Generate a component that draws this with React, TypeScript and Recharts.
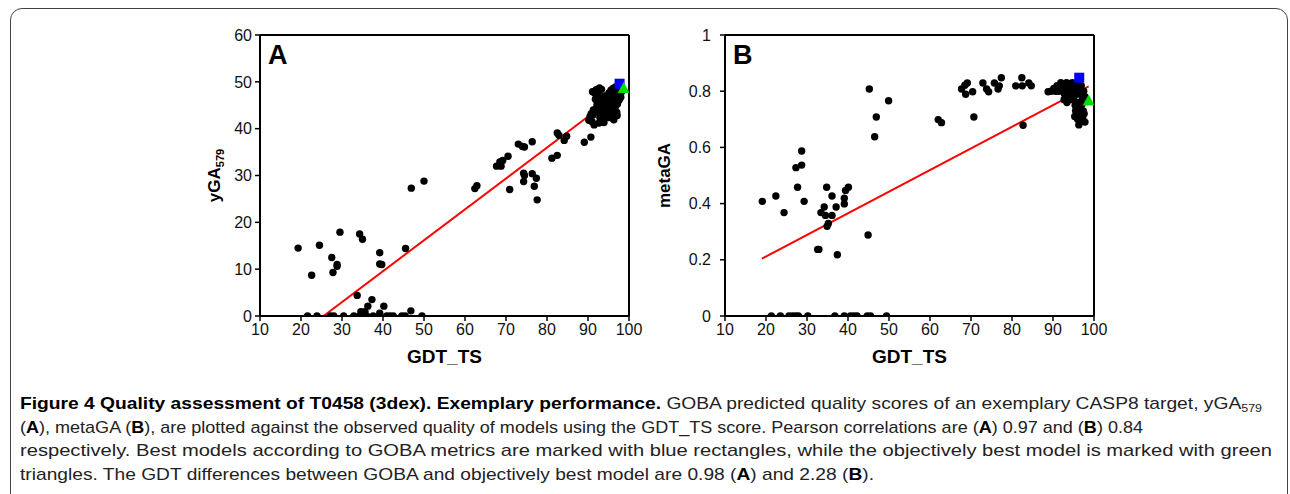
import React from 'react';
import { ScatterChart, Scatter, XAxis, YAxis, ReferenceLine } from 'recharts';

const xTicks = [10, 20, 30, 40, 50, 60, 70, 80, 90, 100];
const yTicksA = [0, 10, 20, 30, 40, 50, 60];
const yTicksB = [0, 0.2, 0.4, 0.6, 0.8, 1];

// Panel A: yGA579 vs GDT_TS
const pointsA: [number, number][] = [
  [19.3, 14.5], [22.6, 8.7], [24.5, 15.1], [27.5, 12.5], [27.8, 9.3], [28.8, 11.0], [28.8, 10.6],
  [29.5, 17.9], [34.3, 17.5], [35.0, 16.4], [39.2, 13.5], [39.2, 11.1], [39.7, 11.0], [45.5, 14.4],
  [33.7, 4.4], [37.3, 3.5], [36.3, 2.1], [40.2, 2.1], [46.8, 1.1], [34.6, 0.9], [35.6, 0.9], [39.2, 0.6],
  [46.9, 27.3], [50.0, 28.8],
  [21.6, 0], [23.9, 0], [27.2, 0], [28.0, 0], [30.4, 0], [32.9, 0], [34.3, 0], [35.1, 0], [36.0, 0],
  [37.6, 0], [40.9, 0], [41.7, 0], [42.5, 0], [44.6, 0], [45.4, 0], [49.5, 0],
  [62.4, 27.2], [62.9, 27.8], [67.7, 32.0], [68.5, 32.9], [69.2, 33.2], [68.8, 32.0], [70.5, 34.1],
  [70.9, 27.0], [73.0, 36.7], [74.0, 36.2], [74.5, 36.1], [76.4, 37.2], [74.3, 30.5], [74.5, 30.0],
  [74.3, 28.7], [76.4, 30.4], [77.4, 29.4], [76.9, 27.7], [77.6, 24.8], [81.2, 33.7], [82.5, 34.3],
  [82.5, 39.1], [82.9, 38.6], [84.2, 37.5], [84.8, 38.4], [89.1, 37.1], [90.7, 38.2],
  [90.2, 41.8], [90.5, 42.6], [90.8, 43.2], [91.0, 41.5], [91.2, 42.9], [91.5, 40.8], [91.3, 44.0],
  [91.6, 47.6], [91.1, 47.9], [92.0, 48.3], [92.4, 47.4], [92.8, 48.7], [93.3, 48.4], [92.6, 46.2],
  [92.2, 45.1], [92.0, 44.3], [92.5, 43.5], [92.9, 42.4], [92.7, 41.2], [93.2, 41.6], [93.5, 42.9],
  [93.4, 44.8], [93.8, 45.6], [93.6, 43.9], [94.0, 42.3], [94.2, 44.2], [94.5, 46.1], [94.1, 47.0],
  [94.8, 45.3], [94.6, 43.3], [95.0, 42.4], [95.2, 44.8], [95.4, 46.5], [95.1, 47.6], [95.6, 48.2],
  [95.8, 47.0], [95.5, 45.7], [95.9, 43.6], [96.0, 42.2], [96.3, 41.9], [96.2, 44.4], [96.5, 45.9],
  [96.4, 47.4], [96.7, 48.9], [96.9, 46.6], [96.8, 44.9], [97.0, 43.5], [97.2, 45.3], [97.4, 47.2],
  [97.6, 46.1], [97.8, 47.6], [98.0, 46.7], [98.2, 47.9], [97.3, 48.4], [96.1, 48.6], [93.0, 46.8],
  [91.8, 46.3], [93.9, 41.3], [95.3, 43.1], [97.1, 42.8],
];
const bestGobaA: [number, number][] = [[97.7, 49.6]];
const bestTrueA: [number, number][] = [[98.7, 48.7]];
const fitA: [number, number][] = [[25.5, 0], [98.2, 48.0]];

// Panel B: metaGA vs GDT_TS
const pointsB: [number, number][] = [
  [19.1, 0.408], [22.4, 0.427], [24.4, 0.368], [27.3, 0.528], [28.7, 0.587], [28.7, 0.537], [27.7, 0.458],
  [29.3, 0.408], [32.6, 0.237], [32.9, 0.237], [33.4, 0.368], [34.2, 0.388], [34.8, 0.458], [34.5, 0.358],
  [34.9, 0.319], [35.2, 0.329], [36.1, 0.427], [36.1, 0.358], [37.1, 0.388], [37.4, 0.218], [39.1, 0.419],
  [39.1, 0.399], [39.4, 0.447], [40.1, 0.458], [45.2, 0.808], [49.9, 0.766], [46.9, 0.708], [46.5, 0.638],
  [44.9, 0.288],
  [21.3, 0], [23.5, 0], [25.6, 0], [26.4, 0], [27.2, 0], [27.9, 0], [30.2, 0], [36.8, 0], [39.1, 0],
  [40.6, 0], [41.4, 0], [42.2, 0], [44.7, 0], [45.5, 0], [49.4, 0],
  [62.0, 0.699], [62.8, 0.688], [67.7, 0.808], [68.5, 0.821], [69.1, 0.829], [68.7, 0.789], [70.4, 0.798],
  [70.7, 0.708], [72.9, 0.829], [73.8, 0.808], [74.3, 0.798], [75.7, 0.829], [76.6, 0.808], [76.9, 0.819],
  [77.4, 0.848], [80.9, 0.819], [82.4, 0.848], [82.5, 0.819], [84.1, 0.829], [84.7, 0.819], [82.7, 0.679],
  [88.8, 0.798],
  [89.5, 0.80], [90.2, 0.81], [90.6, 0.80], [91.0, 0.82], [91.3, 0.80], [91.6, 0.81], [91.9, 0.83],
  [92.2, 0.80], [92.5, 0.82], [92.8, 0.79], [93.0, 0.81], [93.3, 0.83], [93.5, 0.78], [93.7, 0.80],
  [93.9, 0.82], [94.2, 0.79], [94.4, 0.81], [94.7, 0.83], [94.9, 0.80], [95.1, 0.78], [95.3, 0.82],
  [95.6, 0.80], [95.8, 0.83], [96.0, 0.79], [96.3, 0.81], [96.6, 0.80], [96.9, 0.82], [97.2, 0.79],
  [97.5, 0.80], [97.8, 0.78], [92.7, 0.77], [93.4, 0.76], [94.6, 0.77], [95.4, 0.75], [95.9, 0.76],
  [96.5, 0.74], [97.0, 0.75], [97.4, 0.73], [95.5, 0.73], [96.2, 0.72], [96.8, 0.71], [97.6, 0.72],
  [95.3, 0.71], [96.0, 0.70], [96.6, 0.69], [97.3, 0.70], [96.3, 0.68], [97.8, 0.69], [95.7, 0.74],
  [97.1, 0.77],
];
const bestGobaB: [number, number][] = [[96.4, 0.848]];
const bestTrueB: [number, number][] = [[98.7, 0.767]];
const fitB: [number, number][] = [[19.0, 0.204], [98.7, 0.817]];

const toXY = (arr: [number, number][]) => arr.map(([x, y]) => ({ x, y }));

const FONT = '"Liberation Sans", Arial, Helvetica, sans-serif';

const Dot = (p: any) => <circle cx={p.cx} cy={p.cy} r={3.7} fill="#000" />;
const Square = (p: any) => <rect x={p.cx - 5} y={p.cy - 5} width={10} height={10} fill="#0000ff" />;
const Tri = (p: any) => (
  <polygon points={`${p.cx},${p.cy - 6} ${p.cx - 6},${p.cy + 5} ${p.cx + 6},${p.cy + 5}`} fill="#00dd00" />
);

const CW = 510;
const CH = 380;
const MARGIN = { top: 35, right: 31, bottom: 29, left: 0 };

type PanelProps = {
  left: number;
  letter: string;
  points: [number, number][];
  goba: [number, number][];
  best: [number, number][];
  fit: [number, number][];
  yDomain: [number, number];
  yTicks: number[];
  yTickMargin: number;
  yLabelX: number;
  yLabel: React.ReactNode;
};

function Panel(props: PanelProps) {
  const { left, letter, points, goba, best, fit, yDomain, yTicks, yTickMargin, yLabelX, yLabel } = props;
  const plotLeft = 110;
  const plotRight = CW - MARGIN.right;
  const plotTop = MARGIN.top;
  const plotBottom = CH - MARGIN.bottom - 35;
  const midY = (plotTop + plotBottom) / 2;
  return (
    <div style={{ position: 'absolute', left, top: 0, width: CW, height: CH }}>
      <ScatterChart width={CW} height={CH} margin={MARGIN}>
        <XAxis
          type="number"
          dataKey="x"
          domain={[10, 100]}
          ticks={xTicks}
          interval={0}
          height={35}
          axisLine={{ stroke: '#000', strokeWidth: 2 }}
          tickLine={{ stroke: '#000', strokeWidth: 1.5 }}
          tickSize={5}
          tickMargin={3}
          tick={{ fill: '#111', fontSize: 16, fontFamily: FONT }}
          allowDataOverflow
          label={{
            content: () => (
              <text
                x={(plotLeft + plotRight) / 2}
                y={363}
                textAnchor="middle"
                fontFamily={FONT}
                fontWeight="bold"
                fontSize={19}
                fill="#000"
              >
                GDT_TS
              </text>
            ),
          }}
        />
        <YAxis
          type="number"
          dataKey="y"
          domain={yDomain}
          ticks={yTicks}
          interval={0}
          width={110}
          axisLine={{ stroke: '#000', strokeWidth: 2 }}
          tickLine={{ stroke: '#000', strokeWidth: 1.5 }}
          tickSize={5}
          tickMargin={yTickMargin}
          tick={{ fill: '#111', fontSize: 16, fontFamily: FONT }}
          allowDataOverflow
          label={{
            content: () => (
              <text
                transform={`translate(${yLabelX}, ${midY}) rotate(-90)`}
                textAnchor="middle"
                fontFamily={FONT}
                fontWeight="bold"
                fontSize={17}
                fill="#000"
              >
                {yLabel}
              </text>
            ),
          }}
        />
        <ReferenceLine y={yDomain[1]} stroke="#000" strokeWidth={2} />
        <ReferenceLine x={100} stroke="#000" strokeWidth={2} />
        <Scatter data={toXY(points)} shape={Dot} isAnimationActive={false} />
        <ReferenceLine segment={toXY(fit)} stroke="#ff0000" strokeWidth={2} />
        <Scatter data={toXY(goba)} shape={Square} isAnimationActive={false} />
        <Scatter data={toXY(best)} shape={Tri} isAnimationActive={false} />
      </ScatterChart>
      <div
        style={{
          position: 'absolute',
          left: plotLeft + 8,
          top: 42,
          fontFamily: FONT,
          fontWeight: 'bold',
          fontSize: 27,
          lineHeight: '27px',
          color: '#000',
        }}
      >
        {letter}
      </div>
    </div>
  );
}

const CAP_FONT = '"Liberation Sans", Arial, sans-serif';

const captionLines = [
  { y: 409, len: 1242 },
  { y: 432.5, len: 1123 },
  { y: 456, len: 1252 },
  { y: 480, len: 854 },
];

export default function App() {
  const B = (t: string) => (
    <tspan fontWeight="bold" fill="#000">
      {t}
    </tspan>
  );
  const textProps = (i: number) => ({
    x: 20,
    y: captionLines[i].y,
    textLength: captionLines[i].len,
    lengthAdjust: 'spacingAndGlyphs' as const,
    fontFamily: CAP_FONT,
    fontSize: 17,
    fill: '#222',
  });
  return (
    <div style={{ position: 'absolute', left: 0, top: 0, width: 1290, height: 494, background: '#fff', overflow: 'hidden' }}>
      <div
        style={{
          position: 'absolute',
          left: 10,
          top: 8,
          width: 1278,
          height: 520,
          border: '1.5px solid #444',
          borderRadius: 12,
          boxSizing: 'border-box',
        }}
      />
      <Panel
        left={150}
        letter="A"
        points={pointsA}
        goba={bestGobaA}
        best={bestTrueA}
        fit={fitA}
        yDomain={[0, 60]}
        yTicks={yTicksA}
        yTickMargin={3}
        yLabelX={70}
        yLabel={
          <>
            <tspan>yGA</tspan>
            <tspan fontSize={11} dy={4}>579</tspan>
          </>
        }
      />
      <Panel
        left={615}
        letter="B"
        points={pointsB}
        goba={bestGobaB}
        best={bestTrueB}
        fit={fitB}
        yDomain={[0, 1]}
        yTicks={yTicksB}
        yTickMargin={9}
        yLabelX={55}
        yLabel="metaGA"
      />
      <svg
        width={1290}
        height={494}
        style={{ position: 'absolute', left: 0, top: 0, pointerEvents: 'none' }}
      >
        <text {...textProps(0)}>
          {B('Figure 4 Quality assessment of T0458 (3dex). Exemplary performance.')}
          <tspan> GOBA predicted quality scores of an exemplary CASP8 target, yGA</tspan>
          <tspan fontSize={11} dy={3}>579</tspan>
        </text>
        <text {...textProps(1)}>
          <tspan>(</tspan>
          {B('A')}
          <tspan>), metaGA (</tspan>
          {B('B')}
          <tspan>), are plotted against the observed quality of models using the GDT_TS score. Pearson correlations are (</tspan>
          {B('A')}
          <tspan>) 0.97 and (</tspan>
          {B('B')}
          <tspan>) 0.84</tspan>
        </text>
        <text {...textProps(2)}>
          respectively. Best models according to GOBA metrics are marked with blue rectangles, while the objectively best model is marked with green
        </text>
        <text {...textProps(3)}>
          <tspan>triangles. The GDT differences between GOBA and objectively best model are 0.98 (</tspan>
          {B('A')}
          <tspan>) and 2.28 (</tspan>
          {B('B')}
          <tspan>).</tspan>
        </text>
      </svg>
    </div>
  );
}
